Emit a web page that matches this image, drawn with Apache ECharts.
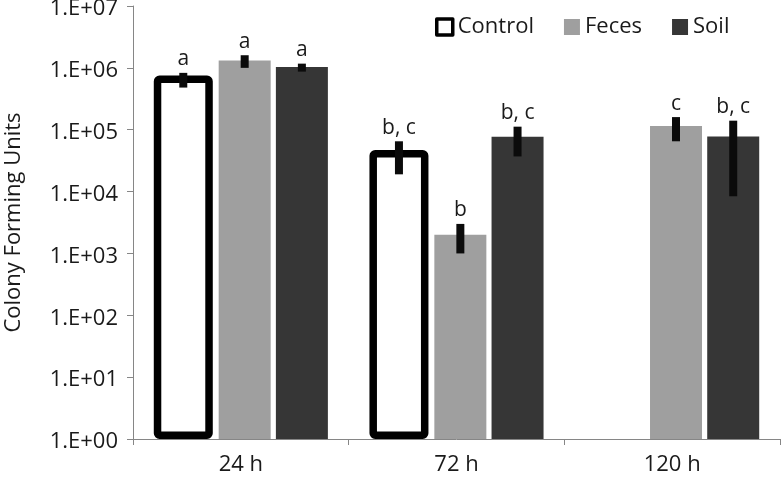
<!DOCTYPE html>
<html>
<head>
<meta charset="utf-8">
<script src="https://cdn.jsdelivr.net/npm/echarts@6/dist/echarts.min.js"></script>
<style>
  html, body { margin: 0; padding: 0; background: #fff; }
  #chart { width: 783px; height: 478px; }
</style>
</head>
<body>
<div id="chart"></div>
<script>
const categories = ['24 h', '72 h', '120 h']
const seriesNames = ['Control', 'Feces', 'Soil']

const controlMean = [7.5e5, 4.7e4, null]
const controlLow = [4.8e5, 1.9e4, null]
const controlHigh = [8.3e5, 6.5e4, null]
const controlLetters = ['a', 'b, c', '']

const fecesMean = [1.32e6, 2.0e3, 1.15e5]
const fecesLow = [1.0e6, 1.0e3, 6.5e4]
const fecesHigh = [1.6e6, 3.0e3, 1.6e5]
const fecesLetters = ['a', 'b', 'c']

const soilMean = [1.03e6, 7.7e4, 7.8e4]
const soilLow = [8.7e5, 3.7e4, 8.4e3]
const soilHigh = [1.17e6, 1.12e5, 1.4e5]
const soilLetters = ['a', 'b, c', 'b, c']

const FONT = '"Open Sans", sans-serif'
const TEXT = '#1a1a1a'

// bar widths (control is wider because its thick border sits inside the bar)
const CONTROL_W = 59
const BAR_W = 52
const GAP = 0.1

function errorData(low, high, letters) {
  const out = []
  low.forEach((v, i) => {
    if (v == null) return
    out.push([i, v, high[i], letters[i]])
  })
  return out
}

// centre of each bar relative to the category centre, same sums ECharts uses
const widths = [CONTROL_W, BAR_W, BAR_W]
const total = widths.reduce((s, w) => s + w * (1 + GAP), 0) - BAR_W * GAP
const centers = []
let acc = -total / 2
widths.forEach(w => {
  centers.push(acc + w / 2)
  acc += w * (1 + GAP)
})

function errorSeries(idx, low, high, letters) {
  return {
    type: 'custom',
    name: seriesNames[idx] + ' err',
    z: 10,
    data: errorData(low, high, letters),
    encode: { x: 0, y: [1, 2] },
    renderItem: (params, api) => {
      const cat = api.value(0)
      const top = api.coord([cat, api.value(2)])
      const bottom = api.coord([cat, api.value(1)])
      const cx = top[0] + centers[idx]
      return {
        type: 'group',
        children: [
          {
            type: 'rect',
            shape: { x: cx - 4, y: top[1], width: 8, height: bottom[1] - top[1] },
            style: { fill: '#0b0b0b' }
          },
          {
            type: 'text',
            style: {
              text: letters[cat],
              x: cx,
              y: top[1] - 3,
              align: 'center',
              verticalAlign: 'bottom',
              font: '21px ' + FONT,
              fill: TEXT
            }
          }
        ]
      }
    }
  }
}

const chart = echarts.init(document.getElementById('chart'))

const option = {
  animation: false,
  backgroundColor: '#fff',
  grid: { left: 133, right: 3, top: 6, bottom: 39, containLabel: false, outerBoundsMode: 'none' },
  legend: {
    left: 430,
    top: 11,
    itemWidth: 16,
    itemHeight: 16,
    itemGap: 30,
    icon: 'rect',
    textStyle: { fontFamily: FONT, fontSize: 22, color: TEXT },
    data: [
      { name: 'Control', itemStyle: { color: '#fff', borderColor: '#000', borderWidth: 3.5 } },
      { name: 'Feces' },
      { name: 'Soil' }
    ]
  },
  xAxis: {
    type: 'category',
    data: categories,
    axisLine: { lineStyle: { color: '#868686', width: 1 } },
    axisTick: { show: true, length: 6, lineStyle: { color: '#868686' } },
    axisLabel: { margin: 15, fontFamily: FONT, fontSize: 22, color: TEXT }
  },
  yAxis: {
    type: 'log',
    logBase: 10,
    min: 1,
    max: 1e7,
    name: 'Colony Forming Units',
    nameLocation: 'middle',
    nameGap: 108,
    nameTextStyle: { fontFamily: FONT, fontSize: 22, color: TEXT },
    axisLine: { show: true, lineStyle: { color: '#868686', width: 1 } },
    axisTick: { show: true, length: 6, lineStyle: { color: '#868686' } },
    splitLine: { show: false },
    axisLabel: {
      margin: 15,
      fontFamily: FONT,
      fontSize: 22,
      color: TEXT,
      verticalAlign: 'top',
      lineHeight: 6,
      formatter: (v) => {
        const e = Math.round(Math.log10(v))
        return '1.E+' + String(e).padStart(2, '0')
      }
    }
  },
  series: [
    {
      name: 'Control',
      type: 'bar',
      barWidth: CONTROL_W,
      barGap: GAP * 100 + '%',
      data: controlMean,
      itemStyle: { color: '#fff', borderColor: '#000', borderWidth: 7.5, borderJoin: 'round', borderRadius: 2 }
    },
    {
      name: 'Feces',
      type: 'bar',
      barWidth: BAR_W,
      barGap: GAP * 100 + '%',
      data: fecesMean,
      itemStyle: { color: '#9f9f9f' }
    },
    {
      name: 'Soil',
      type: 'bar',
      barWidth: BAR_W,
      barGap: GAP * 100 + '%',
      data: soilMean,
      itemStyle: { color: '#363636' }
    },
    errorSeries(0, controlLow, controlHigh, controlLetters),
    errorSeries(1, fecesLow, fecesHigh, fecesLetters),
    errorSeries(2, soilLow, soilHigh, soilLetters)
  ]
}

chart.setOption(option)
</script>
</body>
</html>
